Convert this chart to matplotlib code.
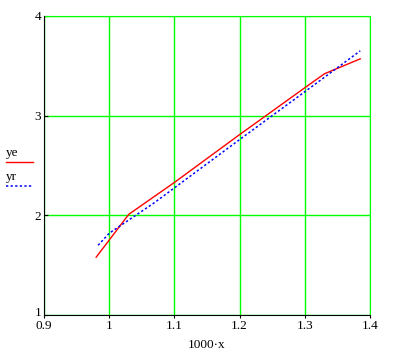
import matplotlib
matplotlib.use("Agg")
import matplotlib.pyplot as plt
import matplotlib.transforms as mtransforms
from matplotlib.lines import Line2D

# data
x_e = [0.98, 1.03, 1.10, 1.20, 1.30, 1.33, 1.385]
y_e = [1.58, 2.01, 2.33, 2.81, 3.28, 3.42, 3.57]

x_r = [0.983, 1.00, 1.07, 1.20, 1.30, 1.385]
y_r = [1.70, 1.82, 2.13, 2.76, 3.24, 3.65]

xticks = [0.9, 1.0, 1.1, 1.2, 1.3, 1.4]
xlabels = ["0.9", "1", "1.1", "1.2", "1.3", "1.4"]
yticks = [1, 2, 3, 4]

plt.rcParams['font.family'] = ['Liberation Serif', 'DejaVu Serif']
fs = 9.5
dots = (0, (1.5, 1.5))

fig = plt.figure(figsize=(3.99, 3.61), dpi=100)
ax = fig.add_axes([44/399, 46/361, 326/399, 299/361])

ax.plot(x_e, y_e, color='red', lw=1)
ax.plot(x_r, y_r, color='blue', lw=1.1, linestyle=dots)

ax.set_xlim(0.9, 1.4)
ax.set_ylim(1, 4)
ax.set_xticks(xticks)
ax.set_xticklabels(xlabels)
ax.set_yticks(yticks)
ax.grid(True, color='#00ff00', lw=1)
ax.set_axisbelow(True)

for s in ['top', 'right']:
    ax.spines[s].set_color('#00ff00')
for s in ['left', 'bottom']:
    ax.spines[s].set_color('black')
ax.spines['left'].set_zorder(5)

ax.tick_params(axis='x', direction='out', length=2, pad=1.5, labelsize=fs)
ax.tick_params(axis='y', direction='in', length=3, pad=2, labelsize=fs)
ax.set_xlabel("1000\u00b7x", fontsize=fs, labelpad=5)

# nudge the lowest y label up so it clears "0.9"
lab = ax.get_yticklabels()[0]
lab.set_transform(lab.get_transform() + mtransforms.ScaledTranslation(0, 3/100, fig.dpi_scale_trans))

# legend at left, outside the axes
fig.text(6/399, 1 - 153/361, "ye", fontsize=fs, va='center', ha='left')
fig.add_artist(Line2D([6/399, 33/399], [1 - 162/361, 1 - 162/361], color='red', lw=1))
fig.text(6/399, 1 - 177/361, "yr", fontsize=fs, va='center', ha='left')
fig.add_artist(Line2D([6/399, 33/399], [1 - 186/361, 1 - 186/361], color='blue',
                      lw=1.1, linestyle=dots))

fig.savefig("out.png", dpi=100)
